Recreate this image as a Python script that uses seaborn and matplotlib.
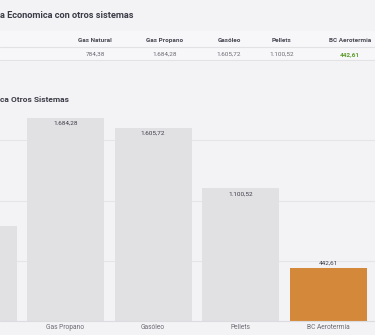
import matplotlib
matplotlib.use("Agg")
import matplotlib.pyplot as plt
import seaborn as sns
import pandas as pd

categories = ["Gas Natural", "Gas Propano", "Gasóleo", "Pellets", "BC Aerotermia"]
values = [784.38, 1684.28, 1605.72, 1100.52, 442.61]
bar_colors = ["#e1e1e3", "#e1e1e3", "#e1e1e3", "#e1e1e3", "#d4883a"]
table_title = "a Economica con otros sistemas"
chart_title = "ca Otros Sistemas"


def fmt_es(v):
    s = f"{v:,.2f}"
    return s.replace(",", "X").replace(".", ",").replace("X", ".")


sns.set_theme(style="white")
plt.rcParams["font.family"] = ["Roboto", "DejaVu Sans"]

BG = "#f3f3f5"
W, H = 375, 335
fig = plt.figure(figsize=(W / 100, H / 100), dpi=100, facecolor=BG)


def fx(px):
    return px / W


def fy(py):
    return 1 - py / H


# Table area
tab_ax = fig.add_axes([0, fy(61), 1, fy(31) - fy(61)])
tab_ax.set_facecolor("#f7f7f9")
tab_ax.set_xticks([]); tab_ax.set_yticks([])
for s in tab_ax.spines.values():
    s.set_visible(False)
tab_ax.axhline(0.47, color="#e2e2e5", lw=0.8)
tab_ax.axhline(0.02, color="#e2e2e5", lw=0.8)
tab_ax.set_xlim(0, 1); tab_ax.set_ylim(0, 1)

fig.text(fx(0), fy(16), table_title, fontsize=6.7, color="#3c3c48",
         fontweight="semibold", va="center", ha="left")

col_x = [95, 165, 229, 282, 350]
for cx, cat, v in zip(col_x, categories, values):
    fig.text(fx(cx), fy(42), cat, fontsize=4.6, fontweight="bold",
             color="#4a4a55", ha="center", va="baseline")
    color = "#5d9b2c" if cat == "BC Aerotermia" else "#6a6a72"
    weight = "bold" if cat == "BC Aerotermia" else "normal"
    fig.text(fx(cx), fy(56), fmt_es(v), fontsize=4.6, color=color,
             fontweight=weight, ha="center", va="baseline")

fig.text(fx(0), fy(99), chart_title, fontsize=6.0, color="#3c3c48",
         fontweight="semibold", va="center", ha="left")

# Chart axes
ax = fig.add_axes([0, fy(321), 1, fy(80) - fy(321)])
ax.set_facecolor(BG)
df = pd.DataFrame({"cat": categories, "val": values})
sns.barplot(data=df, x="cat", y="val", hue="cat", palette=bar_colors,
            legend=False, width=0.88, ax=ax, zorder=2, saturation=1,
            linewidth=0, edgecolor="none")
ax.set_ylim(0, 2000)
ax.set_xlim(0.251, 4.537)
ax.set_yticks([500, 1000, 1500])
ax.yaxis.grid(True, color="#e5e5e8", lw=0.8, zorder=0)
ax.set_axisbelow(True)
ax.tick_params(axis="y", left=False, labelleft=False)
ax.tick_params(axis="x", bottom=False, length=0, labelsize=4.8,
               labelcolor="#6b6b73", pad=2.2)
ax.set_xlabel(""); ax.set_ylabel("")
for name, s in ax.spines.items():
    s.set_visible(False)
ax.axhline(0, color="#dcdce0", lw=0.8, zorder=3, clip_on=False)

for i, (v, c) in enumerate(zip(values, categories)):
    if c == "BC Aerotermia":
        ax.annotate(fmt_es(v), (i, v), xytext=(0, 1.5), textcoords="offset points",
                    ha="center", va="bottom", fontsize=4.6, color="#3c3c48",
                    annotation_clip=True)
    else:
        ax.annotate(fmt_es(v), (i, v), xytext=(0, -2), textcoords="offset points",
                    ha="center", va="top", fontsize=4.6, color="#3c3c48",
                    annotation_clip=True)

fig.savefig("out.png", dpi=100, facecolor=BG)
